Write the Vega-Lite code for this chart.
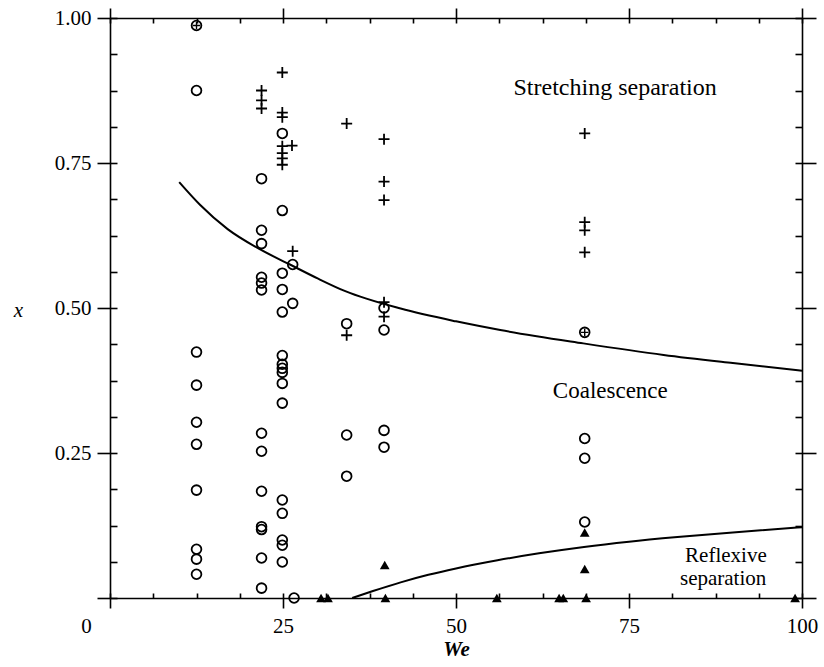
{
  "$schema": "https://vega.github.io/schema/vega-lite/v6.json",
  "width": 692,
  "height": 580,
  "autosize": {"type": "none"},
  "padding": {"left": 110, "top": 18, "right": 22, "bottom": 69},
  "background": "white",
  "config": {
    "view": {"stroke": null},
    "axis": {"grid": false, "domainColor": "black", "tickColor": "black", "labelColor": "black", "titleColor": "black", "labelFont": "Liberation Serif", "titleFont": "Liberation Serif", "domainWidth": 1.6, "tickWidth": 1.6, "labelFontSize": 21, "labelFlush": false, "labelOverlap": false}
  },
  "datasets": {
    "curves": [
      {"curve": "upper", "We": 10, "x": 0.717},
      {"curve": "upper", "We": 13, "x": 0.678},
      {"curve": "upper", "We": 17, "x": 0.636},
      {"curve": "upper", "We": 21.7, "x": 0.601},
      {"curve": "upper", "We": 26, "x": 0.575},
      {"curve": "upper", "We": 30, "x": 0.551},
      {"curve": "upper", "We": 34, "x": 0.529},
      {"curve": "upper", "We": 42, "x": 0.499},
      {"curve": "upper", "We": 50, "x": 0.477},
      {"curve": "upper", "We": 56.4, "x": 0.462},
      {"curve": "upper", "We": 68.4, "x": 0.439},
      {"curve": "upper", "We": 80, "x": 0.419},
      {"curve": "upper", "We": 90, "x": 0.405},
      {"curve": "upper", "We": 100, "x": 0.392},
      {"curve": "lower", "We": 35, "x": 0.0},
      {"curve": "lower", "We": 38, "x": 0.012},
      {"curve": "lower", "We": 42, "x": 0.027},
      {"curve": "lower", "We": 46, "x": 0.040},
      {"curve": "lower", "We": 50, "x": 0.051},
      {"curve": "lower", "We": 56, "x": 0.065},
      {"curve": "lower", "We": 62, "x": 0.077},
      {"curve": "lower", "We": 68.5, "x": 0.088},
      {"curve": "lower", "We": 75, "x": 0.097},
      {"curve": "lower", "We": 82, "x": 0.105},
      {"curve": "lower", "We": 90, "x": 0.113},
      {"curve": "lower", "We": 100, "x": 0.122}
    ],
    "points": [
      {"type": "o", "We": 12.5, "x": 0.875},
      {"type": "o", "We": 12.5, "x": 0.424},
      {"type": "o", "We": 12.5, "x": 0.367},
      {"type": "o", "We": 12.5, "x": 0.303},
      {"type": "o", "We": 12.5, "x": 0.265},
      {"type": "o", "We": 12.5, "x": 0.186},
      {"type": "o", "We": 12.5, "x": 0.084},
      {"type": "o", "We": 12.5, "x": 0.067},
      {"type": "o", "We": 12.5, "x": 0.041},
      {"type": "o", "We": 21.9, "x": 0.723},
      {"type": "o", "We": 21.9, "x": 0.634},
      {"type": "o", "We": 21.9, "x": 0.611},
      {"type": "o", "We": 21.9, "x": 0.553},
      {"type": "o", "We": 21.9, "x": 0.543},
      {"type": "o", "We": 21.9, "x": 0.531},
      {"type": "o", "We": 21.9, "x": 0.284},
      {"type": "o", "We": 21.9, "x": 0.253},
      {"type": "o", "We": 21.9, "x": 0.184},
      {"type": "o", "We": 21.9, "x": 0.123},
      {"type": "o", "We": 21.9, "x": 0.118},
      {"type": "o", "We": 21.9, "x": 0.069},
      {"type": "o", "We": 21.9, "x": 0.017},
      {"type": "o", "We": 24.9, "x": 0.801},
      {"type": "o", "We": 24.9, "x": 0.668},
      {"type": "o", "We": 24.9, "x": 0.560},
      {"type": "o", "We": 24.9, "x": 0.532},
      {"type": "o", "We": 24.9, "x": 0.493},
      {"type": "o", "We": 24.9, "x": 0.418},
      {"type": "o", "We": 24.9, "x": 0.403},
      {"type": "o", "We": 24.9, "x": 0.396},
      {"type": "o", "We": 24.9, "x": 0.389},
      {"type": "o", "We": 24.9, "x": 0.370},
      {"type": "o", "We": 24.9, "x": 0.336},
      {"type": "o", "We": 24.9, "x": 0.169},
      {"type": "o", "We": 24.9, "x": 0.146},
      {"type": "o", "We": 24.9, "x": 0.100},
      {"type": "o", "We": 24.9, "x": 0.091},
      {"type": "o", "We": 24.9, "x": 0.062},
      {"type": "o", "We": 26.4, "x": 0.575},
      {"type": "o", "We": 26.4, "x": 0.508},
      {"type": "o", "We": 26.6, "x": 0.0},
      {"type": "o", "We": 34.2, "x": 0.473},
      {"type": "o", "We": 34.2, "x": 0.281},
      {"type": "o", "We": 34.2, "x": 0.210},
      {"type": "o", "We": 39.6, "x": 0.500},
      {"type": "o", "We": 39.6, "x": 0.462},
      {"type": "o", "We": 39.6, "x": 0.289},
      {"type": "o", "We": 39.6, "x": 0.260},
      {"type": "o", "We": 68.6, "x": 0.275},
      {"type": "o", "We": 68.6, "x": 0.241},
      {"type": "o", "We": 68.6, "x": 0.131},
      {"type": "+", "We": 21.9, "x": 0.875},
      {"type": "+", "We": 21.9, "x": 0.858},
      {"type": "+", "We": 21.9, "x": 0.844},
      {"type": "+", "We": 24.9, "x": 0.906},
      {"type": "+", "We": 24.9, "x": 0.837},
      {"type": "+", "We": 24.9, "x": 0.829},
      {"type": "+", "We": 24.9, "x": 0.779},
      {"type": "+", "We": 24.9, "x": 0.767},
      {"type": "+", "We": 24.9, "x": 0.758},
      {"type": "+", "We": 24.9, "x": 0.747},
      {"type": "+", "We": 26.3, "x": 0.780},
      {"type": "+", "We": 26.4, "x": 0.598},
      {"type": "+", "We": 34.2, "x": 0.818},
      {"type": "+", "We": 34.2, "x": 0.453},
      {"type": "+", "We": 39.6, "x": 0.791},
      {"type": "+", "We": 39.6, "x": 0.718},
      {"type": "+", "We": 39.6, "x": 0.686},
      {"type": "+", "We": 39.6, "x": 0.510},
      {"type": "+", "We": 39.6, "x": 0.485},
      {"type": "+", "We": 68.6, "x": 0.801},
      {"type": "+", "We": 68.6, "x": 0.648},
      {"type": "+", "We": 68.6, "x": 0.634},
      {"type": "+", "We": 68.6, "x": 0.596},
      {"type": "o+", "We": 12.5, "x": 0.987},
      {"type": "o+", "We": 68.6, "x": 0.458},
      {"type": "tri", "We": 30.5, "x": 0.0},
      {"type": "tri", "We": 31.5, "x": 0.0},
      {"type": "tri", "We": 39.7, "x": 0.057},
      {"type": "tri", "We": 39.8, "x": 0.0},
      {"type": "tri", "We": 55.9, "x": 0.0},
      {"type": "tri", "We": 64.9, "x": 0.0},
      {"type": "tri", "We": 65.5, "x": 0.0},
      {"type": "tri", "We": 68.6, "x": 0.113},
      {"type": "tri", "We": 68.6, "x": 0.050},
      {"type": "tri", "We": 68.8, "x": 0.0},
      {"type": "tri", "We": 99.0, "x": 0.0}
    ],
    "labels": [
      {"We": 73.0, "x": 0.880, "label": "Stretching separation", "fs": 24},
      {"We": 72.3, "x": 0.357, "label": "Coalescence", "fs": 23},
      {"We": 89.0, "x": 0.073, "label": "Reflexive", "fs": 21},
      {"We": 88.6, "x": 0.033, "label": "separation", "fs": 21}
    ]
  },
  "resolve": {"axis": {"x": "independent", "y": "independent"}},
  "layer": [
    {
      "data": {"name": "curves"},
      "mark": {"type": "line", "color": "black", "strokeWidth": 2, "interpolate": "monotone"},
      "encoding": {
        "x": {"field": "We", "type": "quantitative", "scale": {"domain": [0, 100], "nice": false, "zero": false},
          "axis": {"orient": "bottom", "values": [25, 50, 75, 100], "tickSize": 10, "labelPadding": 7, "domain": true, "title": "We", "titleFontStyle": "italic", "titleFontWeight": "bold", "titleFontSize": 21, "titleX": 346, "titleY": 51, "titleBaseline": "middle", "titleAlign": "center"}},
        "y": {"field": "x", "type": "quantitative", "scale": {"domain": [0, 1], "nice": false, "zero": false},
          "axis": {"orient": "left", "values": [0.25, 0.5, 0.75, 1], "format": ".2f", "tickSize": 13, "labelPadding": 6, "domain": true, "title": "x", "titleAngle": 0, "titleFontStyle": "italic", "titleFontWeight": "normal", "titleFontSize": 21, "titleX": -92, "titleY": 292, "titleAlign": "center", "titleBaseline": "middle"}},
        "detail": {"field": "curve"}
      }
    },
    {
      "data": {"name": "points"},
      "transform": [{"filter": "datum.type === 'o' || datum.type === 'o+'"}],
      "mark": {"type": "point", "shape": "circle", "filled": false, "stroke": "black", "strokeWidth": 1.8, "size": 95, "opacity": 1},
      "encoding": {
        "x": {"field": "We", "type": "quantitative", "scale": {"domain": [0, 100], "nice": false, "zero": false},
          "axis": {"orient": "bottom", "values": [0, 6.25, 12.5, 18.75, 25, 31.25, 37.5, 43.75, 50, 56.25, 62.5, 68.75, 75, 81.25, 87.5, 93.75, 100], "tickSize": -5, "labels": false, "domain": false, "title": null}},
        "y": {"field": "x", "type": "quantitative", "scale": {"domain": [0, 1], "nice": false, "zero": false},
          "axis": {"orient": "left", "values": [0, 0.0625, 0.125, 0.1875, 0.25, 0.3125, 0.375, 0.4375, 0.5, 0.5625, 0.625, 0.6875, 0.75, 0.8125, 0.875, 0.9375, 1], "tickSize": -7, "labels": false, "domain": false, "title": null}}
      }
    },
    {
      "data": {"name": "points"},
      "transform": [{"filter": "datum.type === '+'"}],
      "mark": {"type": "point", "shape": "M-1,0H1M0,-1V1", "filled": false, "stroke": "black", "strokeWidth": 1.8, "size": 121, "opacity": 1},
      "encoding": {
        "x": {"field": "We", "type": "quantitative", "scale": {"domain": [0, 100], "nice": false, "zero": false},
          "axis": {"orient": "top", "values": [0, 25, 50, 75, 100], "tickSize": 10, "labels": false, "domain": true, "title": null}},
        "y": {"field": "x", "type": "quantitative", "scale": {"domain": [0, 1], "nice": false, "zero": false},
          "axis": {"orient": "right", "values": [0, 0.25, 0.5, 0.75, 1], "tickSize": 14, "labels": false, "domain": true, "title": null}}
      }
    },
    {
      "data": {"name": "points"},
      "transform": [{"filter": "datum.type === 'tri'"}],
      "mark": {"type": "point", "shape": "triangle-up", "filled": true, "fill": "black", "stroke": null, "size": 95, "opacity": 1},
      "encoding": {
        "x": {"field": "We", "type": "quantitative", "scale": {"domain": [0, 100], "nice": false, "zero": false},
          "axis": {"orient": "top", "values": [0, 6.25, 12.5, 18.75, 25, 31.25, 37.5, 43.75, 50, 56.25, 62.5, 68.75, 75, 81.25, 87.5, 93.75, 100], "tickSize": -5, "labels": false, "domain": false, "title": null}},
        "y": {"field": "x", "type": "quantitative", "scale": {"domain": [0, 1], "nice": false, "zero": false},
          "axis": {"orient": "right", "values": [0, 0.0625, 0.125, 0.1875, 0.25, 0.3125, 0.375, 0.4375, 0.5, 0.5625, 0.625, 0.6875, 0.75, 0.8125, 0.875, 0.9375, 1], "tickSize": -7, "labels": false, "domain": false, "title": null}}
      }
    },
    {
      "data": {"name": "points"},
      "transform": [{"filter": "datum.type === 'o+'"}],
      "mark": {"type": "point", "shape": "M-1,0H1M0,-1V1", "filled": false, "stroke": "black", "strokeWidth": 1.4, "size": 55, "opacity": 1},
      "encoding": {
        "x": {"field": "We", "type": "quantitative", "scale": {"domain": [0, 100], "nice": false, "zero": false},
          "axis": {"orient": "bottom", "values": [0], "tickSize": 10, "labelPadding": 7, "labelOffset": -24, "domain": false, "title": null}},
        "y": {"field": "x", "type": "quantitative", "scale": {"domain": [0, 1], "nice": false, "zero": false},
          "axis": {"orient": "left", "values": [0], "tickSize": 13, "labels": false, "domain": false, "title": null}}
      }
    },
    {
      "data": {"name": "labels"},
      "mark": {"type": "text", "font": "Liberation Serif", "color": "black", "align": "center", "baseline": "middle"},
      "encoding": {
        "x": {"field": "We", "type": "quantitative", "scale": {"domain": [0, 100], "nice": false, "zero": false}, "axis": null},
        "y": {"field": "x", "type": "quantitative", "scale": {"domain": [0, 1], "nice": false, "zero": false}, "axis": null},
        "text": {"field": "label"},
        "size": {"field": "fs", "type": "quantitative", "scale": null}
      }
    }
  ]
}
